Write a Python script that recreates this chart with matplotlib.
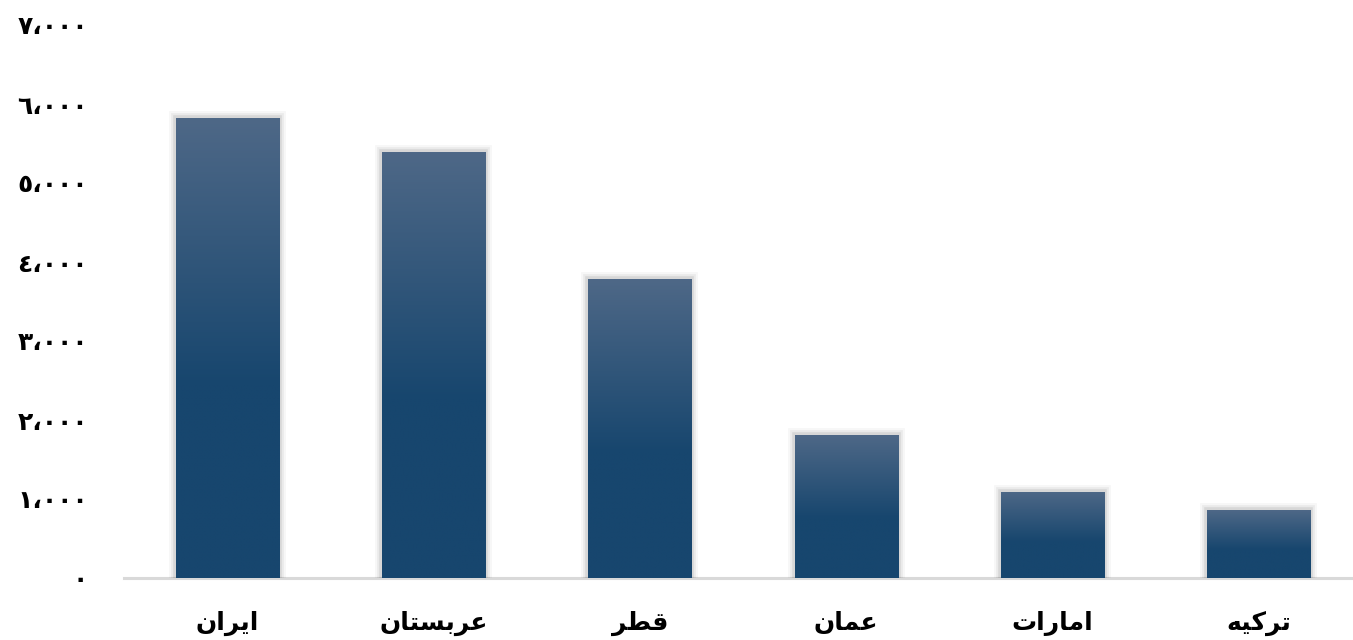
import numpy as np
import matplotlib
matplotlib.use("Agg")
import matplotlib.pyplot as plt
import matplotlib.patheffects as pe
from matplotlib import font_manager
from matplotlib.ft2font import FT2Font
from matplotlib.colors import to_rgb

# =========================================
# DATA
# =========================================
countries = ["ایران", "عربستان", "قطر", "عمان", "امارات", "ترکیه"]
values = [5820, 5390, 3780, 1810, 1090, 860]
y_ticks = [0, 1000, 2000, 3000, 4000, 5000, 6000, 7000]

# =========================================
# HELPERS
# =========================================
# (isolated, final, initial, medial) presentation forms
FORMS = {
    "ا": (0xFE8D, 0xFE8E, None, None),
    "ب": (0xFE8F, 0xFE90, 0xFE91, 0xFE92),
    "ت": (0xFE95, 0xFE96, 0xFE97, 0xFE98),
    "ر": (0xFEAD, 0xFEAE, None, None),
    "س": (0xFEB1, 0xFEB2, 0xFEB3, 0xFEB4),
    "ط": (0xFEC1, 0xFEC2, 0xFEC3, 0xFEC4),
    "ع": (0xFEC9, 0xFECA, 0xFECB, 0xFECC),
    "ق": (0xFED5, 0xFED6, 0xFED7, 0xFED8),
    "ک": (0xFB8E, 0xFB8F, 0xFB90, 0xFB91),
    "ك": (0xFED9, 0xFEDA, 0xFEDB, 0xFEDC),
    "م": (0xFEE1, 0xFEE2, 0xFEE3, 0xFEE4),
    "ن": (0xFEE5, 0xFEE6, 0xFEE7, 0xFEE8),
    "ه": (0xFEE9, 0xFEEA, 0xFEEB, 0xFEEC),
    "ی": (0xFBFC, 0xFBFD, 0xFBFE, 0xFBFF),
    "ي": (0xFEF1, 0xFEF2, 0xFEF3, 0xFEF4),
}

FONT_FAMILY = "DejaVu Sans"
font_path = font_manager.findfont(
    font_manager.FontProperties(family=FONT_FAMILY, weight="bold"))
_ft = FT2Font(font_path)


def has_glyph(code):
    return _ft.get_char_index(code) != 0


def shape_farsi(word):
    # swap Persian letters for Arabic ones if the font lacks their forms
    if not has_glyph(0xFB90):
        word = word.replace("ک", "ك")
    if not has_glyph(0xFBFE):
        word = word.replace("ی", "ي")
    out = []
    for i, ch in enumerate(word):
        forms = FORMS.get(ch)
        if forms is None:
            out.append(ch)
            continue
        prev = FORMS.get(word[i - 1]) if i > 0 else None
        nxt = FORMS.get(word[i + 1]) if i + 1 < len(word) else None
        join_prev = prev is not None and prev[2] is not None
        join_next = nxt is not None and forms[2] is not None
        if join_prev and join_next:
            code = forms[3]
        elif join_next:
            code = forms[2]
        elif join_prev:
            code = forms[1]
        else:
            code = forms[0]
        out.append(chr(code))
    return "".join(reversed(out))


def arabic_digits(n):
    s = f"{n:,}"
    table = str.maketrans("0123456789,", "٠١٢٣٤٥٦٧٨٩،")
    return s.translate(table)


# =========================================
# PLOT
# =========================================
plt.rcParams["font.family"] = [FONT_FAMILY]

W, H = 1353, 640
fig = plt.figure(figsize=(W / 100, H / 100), dpi=100)
ax = fig.add_axes([124 / W, 62 / H, (1362 - 124) / W, (615 - 62) / H])

x = np.arange(len(countries))
bar_w = 0.5

# soft grey shadow around each bar
shadow = [
    pe.withStroke(linewidth=10, foreground="#000000", alpha=0.03),
    pe.withStroke(linewidth=7, foreground="#000000", alpha=0.05),
    pe.withStroke(linewidth=4, foreground="#000000", alpha=0.08),
]

bars = ax.bar(x, values, width=bar_w, color="#17466e", linewidth=0,
              zorder=2, path_effects=shadow)

top_c = np.array(to_rgb("#4e6887"))
bot_c = np.array(to_rgb("#17466e"))
n = 256
f = np.linspace(0, 1, n)                       # 0 bottom, 1 top
t = np.clip((f - 0.42) / 0.58, 0, 1)
grad = bot_c[None, :] * (1 - t[:, None]) + top_c[None, :] * t[:, None]
grad = grad[:, None, :]

for bar in bars:
    x0 = bar.get_x()
    h = bar.get_height()
    im = ax.imshow(grad, extent=(x0, x0 + bar_w, 0, h), origin="lower",
                   aspect="auto", interpolation="bilinear", zorder=3)
    im.set_clip_path(bar)

ax.set_xlim(-0.5, len(countries) - 0.5)
ax.set_ylim(0, 7000)

ax.set_xticks(x)
ax.set_xticklabels([shape_farsi(c) for c in countries],
                   fontsize=18, fontweight="bold")
ax.set_yticks(y_ticks)
ax.set_yticklabels([arabic_digits(v) for v in y_ticks],
                   fontsize=18, fontweight="bold")
ax.tick_params(axis="both", length=0)
ax.tick_params(axis="y", pad=26)
ax.tick_params(axis="x", pad=24)

for side in ["top", "right", "left"]:
    ax.spines[side].set_visible(False)
ax.spines["bottom"].set_color("#d9d9d9")
ax.spines["bottom"].set_linewidth(2.2)
ax.spines["bottom"].set_zorder(1)

fig.savefig("out.png", dpi=100)
